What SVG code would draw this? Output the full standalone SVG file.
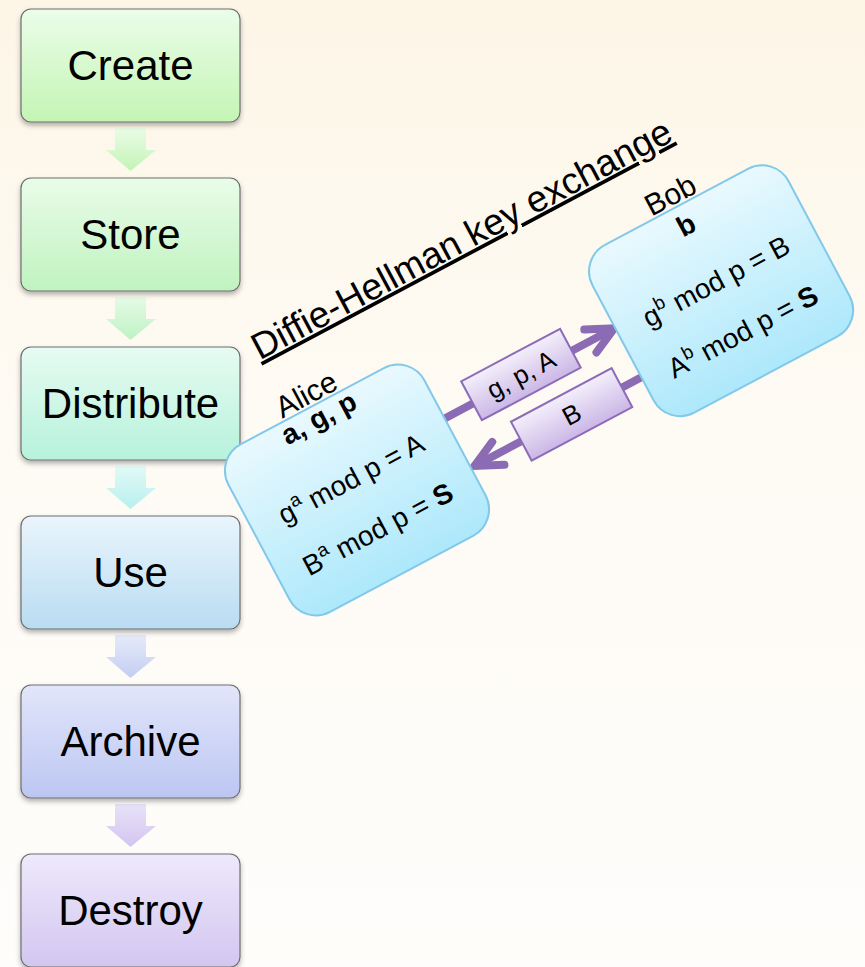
<svg xmlns="http://www.w3.org/2000/svg" width="865" height="967" viewBox="0 0 865 967">
  <defs>
    <linearGradient id="bg" x1="0" y1="0" x2="0" y2="1">
      <stop offset="0" stop-color="#fdf6e7"/>
      <stop offset="0.45" stop-color="#fefbf5"/>
      <stop offset="1" stop-color="#fefdfb"/>
    </linearGradient>
    <linearGradient id="gCreate" x1="0" y1="0" x2="0" y2="1"><stop offset="0" stop-color="#ebfde9"/><stop offset="1" stop-color="#c4f5b4"/></linearGradient>
    <linearGradient id="gStore" x1="0" y1="0" x2="0" y2="1"><stop offset="0" stop-color="#e9fce9"/><stop offset="1" stop-color="#c0f3c0"/></linearGradient>
    <linearGradient id="gDistribute" x1="0" y1="0" x2="0" y2="1"><stop offset="0" stop-color="#e6fbf1"/><stop offset="1" stop-color="#b7f2dc"/></linearGradient>
    <linearGradient id="gUse" x1="0" y1="0" x2="0" y2="1"><stop offset="0" stop-color="#eaf5fc"/><stop offset="1" stop-color="#b9dcf2"/></linearGradient>
    <linearGradient id="gArchive" x1="0" y1="0" x2="0" y2="1"><stop offset="0" stop-color="#e2e6fa"/><stop offset="1" stop-color="#bcc6f2"/></linearGradient>
    <linearGradient id="gDestroy" x1="0" y1="0" x2="0" y2="1"><stop offset="0" stop-color="#eee9fb"/><stop offset="1" stop-color="#d3c6f0"/></linearGradient>
    <linearGradient id="a1" x1="0" y1="0" x2="0" y2="1"><stop offset="0" stop-color="#eafce6"/><stop offset="1" stop-color="#c3f4b6"/></linearGradient>
    <linearGradient id="a2" x1="0" y1="0" x2="0" y2="1"><stop offset="0" stop-color="#e6fbe6"/><stop offset="1" stop-color="#bef2c4"/></linearGradient>
    <linearGradient id="a3" x1="0" y1="0" x2="0" y2="1"><stop offset="0" stop-color="#e2faf6"/><stop offset="1" stop-color="#b8f0ee"/></linearGradient>
    <linearGradient id="a4" x1="0" y1="0" x2="0" y2="1"><stop offset="0" stop-color="#e6ebf9"/><stop offset="1" stop-color="#c4cdf3"/></linearGradient>
    <linearGradient id="a5" x1="0" y1="0" x2="0" y2="1"><stop offset="0" stop-color="#e8e2f8"/><stop offset="1" stop-color="#d3c5f0"/></linearGradient>
    <linearGradient id="party" x1="0" y1="0" x2="0" y2="1"><stop offset="0" stop-color="#e9f9fe"/><stop offset="1" stop-color="#ade8fb"/></linearGradient>
    <linearGradient id="msg" x1="0" y1="0" x2="0" y2="1"><stop offset="0" stop-color="#f4effb"/><stop offset="1" stop-color="#cbb7e6"/></linearGradient>
    <filter id="shadow" x="-10%" y="-10%" width="120%" height="135%">
      <feDropShadow dx="0" dy="3" stdDeviation="2.5" flood-color="#000" flood-opacity="0.3"/>
    </filter>
    <marker id="chevron" markerUnits="userSpaceOnUse" orient="auto" overflow="visible" markerWidth="40" markerHeight="40" refX="0" refY="0">
      <path d="M-27,-13 L0,0 L-27,13" fill="none" stroke="#8b6bb4" stroke-width="8" stroke-linecap="round" stroke-linejoin="miter"/>
    </marker>
    <style>
      text { font-family: "Liberation Sans", Arial, sans-serif; fill: #000; }
      .step rect { stroke: #6e6e6e; stroke-width: 1.2; }
      .step text { font-size: 42px; text-anchor: middle; }
      .party-box { fill: url(#party); stroke: #82c8ea; stroke-width: 2; }
      .party text { font-size: 28px; text-anchor: middle; }
      .party text.name { font-size: 30px; }
      .msg-box { fill: url(#msg); stroke: #8c6cb8; stroke-width: 2; }
      .msg text { font-size: 26px; text-anchor: middle; }
      .link { stroke: #8b6bb4; stroke-width: 8; fill: none; marker-end: url(#chevron); }
      .b { font-weight: bold; }
    </style>
  </defs>

  <rect width="865" height="967" fill="url(#bg)"/>

  <!-- key lifecycle column -->
  <g id="lifecycle-arrows">
    <path d="M115,128 H146 V150 H156 L130.5,171 L106,150 H115 Z" fill="url(#a1)"/>
    <path d="M115,297 H146 V319 H156 L130.5,340 L106,319 H115 Z" fill="url(#a2)"/>
    <path d="M115,466 H146 V488 H156 L130.5,509 L106,488 H115 Z" fill="url(#a3)"/>
    <path d="M115,635 H146 V657 H156 L130.5,678 L106,657 H115 Z" fill="url(#a4)"/>
    <path d="M115,804 H146 V826 H156 L130.5,847 L106,826 H115 Z" fill="url(#a5)"/>
  </g>

  <g id="create" class="step">
    <rect x="21" y="9" width="219" height="113" rx="10" fill="url(#gCreate)" filter="url(#shadow)"/>
    <text x="130.5" y="80">Create</text>
  </g>
  <g id="store" class="step">
    <rect x="21" y="178" width="219" height="113" rx="10" fill="url(#gStore)" filter="url(#shadow)"/>
    <text x="130.5" y="249">Store</text>
  </g>
  <g id="distribute" class="step">
    <rect x="21" y="347" width="219" height="113" rx="10" fill="url(#gDistribute)" filter="url(#shadow)"/>
    <text x="130.5" y="418">Distribute</text>
  </g>
  <g id="use" class="step">
    <rect x="21" y="516" width="219" height="113" rx="10" fill="url(#gUse)" filter="url(#shadow)"/>
    <text x="130.5" y="587">Use</text>
  </g>
  <g id="archive" class="step">
    <rect x="21" y="685" width="219" height="113" rx="10" fill="url(#gArchive)" filter="url(#shadow)"/>
    <text x="130.5" y="756">Archive</text>
  </g>
  <g id="destroy" class="step">
    <rect x="21" y="854" width="219" height="113" rx="10" fill="url(#gDestroy)" filter="url(#shadow)"/>
    <text x="130.5" y="925">Destroy</text>
  </g>

  <!-- key exchange, tilted -->
  <g transform="translate(357,490) rotate(-28)">
    <g id="title">
      <text x="210" y="-160" font-size="37" text-anchor="middle" text-decoration="underline">Diffie-Hellman key exchange</text>
    </g>

    <g id="connectors">
      <line class="link" x1="111" y1="-22" x2="303" y2="-22"/>
      <line class="link" x1="304" y1="34" x2="115" y2="34"/>
      <g class="msg">
        <rect class="msg-box" x="143" y="-47" width="112" height="44"/>
        <text x="199" y="-16">g, p, A</text>
        <rect class="msg-box" x="168" y="12" width="114" height="44"/>
        <text x="225" y="43">B</text>
      </g>
    </g>

    <g id="alice" class="party">
      <rect class="party-box" x="-111" y="-95" width="222" height="190" rx="30"/>
      <text x="0" y="-98" class="name">Alice</text>
      <text x="0" y="-72" class="b">a, g, p</text>
      <text x="0" y="-3">g<tspan dy="-11" font-size="19">a</tspan><tspan dy="11"> mod p = A</tspan></text>
      <text x="0" y="54">B<tspan dy="-11" font-size="19">a</tspan><tspan dy="11"> mod p = </tspan><tspan class="b">S</tspan></text>
    </g>

    <g id="bob" class="party">
      <rect class="party-box" x="304" y="-100" width="222" height="190" rx="30"/>
      <text x="415" y="-103" class="name">Bob</text>
      <text x="415" y="-70" class="b">b</text>
      <text x="415" y="-6">g<tspan dy="-11" font-size="19">b</tspan><tspan dy="11"> mod p = B</tspan></text>
      <text x="415" y="51">A<tspan dy="-11" font-size="19">b</tspan><tspan dy="11"> mod p = </tspan><tspan class="b">S</tspan></text>
    </g>
  </g>
</svg>
